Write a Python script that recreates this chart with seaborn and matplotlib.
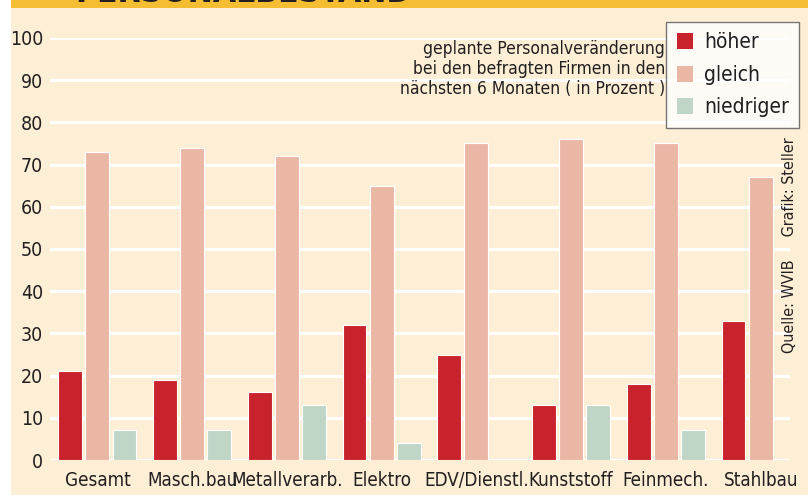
import matplotlib
matplotlib.use("Agg")
import matplotlib.pyplot as plt
from matplotlib.patches import Rectangle, Patch
import seaborn as sns
import pandas as pd

categories = ["Gesamt", "Masch.bau", "Metallverarb.", "Elektro", "EDV/Dienstl.",
              "Kunststoff", "Feinmech.", "Stahlbau"]
hoeher = [21, 19, 16, 32, 25, 13, 18, 33]
gleich = [73, 74, 72, 65, 75, 76, 75, 67]
niedriger = [7, 7, 13, 4, 0, 13, 7, 0]
series_names = ["höher", "gleich", "niedriger"]
y_ticks = [0, 10, 20, 30, 40, 50, 60, 70, 80, 90, 100]

colors = ["#C8222C", "#EBB7A5", "#BFD5C6"]
cream = "#FDEFD6"
yellow = "#F5BE32"
textc = "#231F20"

sns.set_theme(style="white")
plt.rcParams["font.family"] = ["DejaVu Sans"]
plt.rcParams["font.stretch"] = "condensed"

rows = []
for i, c in enumerate(categories):
    for name, vals in zip(series_names, [hoeher, gleich, niedriger]):
        rows.append({"Branche": c, "Veränderung": name, "Prozent": vals[i]})
df = pd.DataFrame(rows)

W, H = 808, 495
fig = plt.figure(figsize=(W / 100, H / 100), dpi=100)
fig.patch.set_facecolor("white")
fig.patches.append(Rectangle((11 / W, 0), 1, (H - 8) / H, transform=fig.transFigure,
                             facecolor=cream, edgecolor="none", zorder=-10))
fig.patches.append(Rectangle((11 / W, (H - 8) / H), 1, 8 / H, transform=fig.transFigure,
                             facecolor=yellow, edgecolor="none", zorder=-10))
fig.text(75 / W, (H - 1.5) / H, "PERSONALBESTAND", fontsize=24, fontweight="bold",
         color=textc, ha="left", va="baseline", zorder=1)

ax = fig.add_axes([50 / W, (H - 460) / H, (790 - 50) / W, (460 - 38) / H])
ax.set_facecolor("none")
sns.barplot(data=df, x="Branche", y="Prozent", hue="Veränderung", order=categories,
            hue_order=series_names, palette=colors, saturation=1, width=0.86, gap=0.12,
            edgecolor="white", linewidth=0.8, ax=ax, legend=False, zorder=3)
ax.set_xlim(-0.5, 7.31)
ax.set_ylim(0, 100)
ax.set_yticks(y_ticks)
ax.yaxis.grid(True, color="white", linewidth=2.2, zorder=0)
ax.set_axisbelow(True)
for s in ax.spines.values():
    s.set_visible(False)
ax.tick_params(axis="both", length=0)
ax.tick_params(axis="y", pad=5, labelsize=14, labelcolor=textc)
ax.tick_params(axis="x", pad=8, labelsize=13.5, labelcolor=textc)
ax.set_xlabel("")
ax.set_ylabel("")

fig.text(665 / W, (H - 69) / H, "geplante Personalveränderung\nbei den befragten Firmen in den\nnächsten 6 Monaten ( in Prozent )",
         ha="right", va="center", fontsize=12.5, color=textc, linespacing=1.15)

handles = [Patch(facecolor=c, edgecolor="none") for c in colors]
leg = fig.legend(handles, series_names, loc="upper right",
                 bbox_to_anchor=(799 / W, (H - 22) / H), borderaxespad=0,
                 frameon=True, fancybox=False,
                 fontsize=15, handlelength=0.8, handleheight=0.8, handletextpad=0.5,
                 borderpad=0.5, labelspacing=0.6)
leg.get_frame().set_edgecolor("#555555")
leg.get_frame().set_linewidth(1.0)
leg.get_frame().set_facecolor("white")
for t in leg.get_texts():
    t.set_color(textc)

fig.text(790 / W, (H - 245) / H, "Quelle: WVIB     Grafik: Steller", rotation=90,
         ha="center", va="center", fontsize=11.5, color=textc)

fig.savefig("out.png", dpi=100, facecolor=fig.get_facecolor())
